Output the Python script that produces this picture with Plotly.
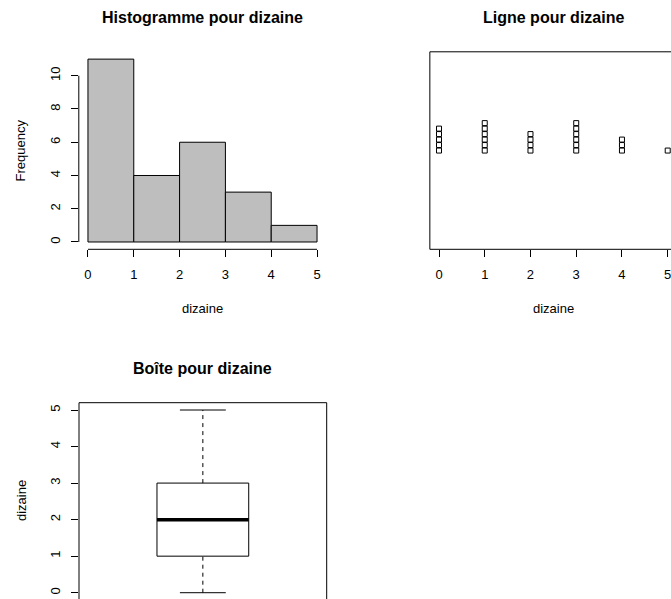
import numpy as np
import pandas as pd
import plotly.graph_objects as go

# ---- data ----
values = [0, 1, 2, 3, 4, 5]
value_counts = [5, 6, 4, 6, 3, 1]
breaks = [0, 1, 2, 3, 4, 5]
hist_ticks_x = [0, 1, 2, 3, 4, 5]
hist_ticks_y = [0, 2, 4, 6, 8, 10]
strip_ticks_x = [0, 1, 2, 3, 4, 5]
box_ticks_y = [0, 1, 2, 3, 4, 5]

dizaine = np.repeat(values, value_counts)

W, H = 671, 599
def px_x(p):
    return p / W
def px_y(p):
    return 1 - p / H

FONT = "Liberation Sans, Arial, Helvetica, sans-serif"
TICK = 13

# histogram counts, R style (right-closed, include lowest)
cats = pd.cut(pd.Series(dizaine), bins=breaks, right=True, include_lowest=True)
counts = cats.value_counts(sort=False).sort_index().values
mids = [(a + b) / 2 for a, b in zip(breaks[:-1], breaks[1:])]

fig = go.Figure()

fig.add_trace(go.Bar(x=mids, y=counts, width=1, marker=dict(color="#BEBEBE", line=dict(color="black", width=1)),
                     xaxis="x", yaxis="y", hoverinfo="x+y"))

# strip chart, stacked
sx, sy = [], []
for v, c in zip(values, value_counts):
    for k in range(c):
        sx.append(v)
        sy.append(1 + k * 0.03)
fig.add_trace(go.Scatter(x=sx, y=sy, mode="markers", xaxis="x2", yaxis="y2", cliponaxis=False,
                         marker=dict(symbol="square-open", size=5, color="black", line=dict(width=1))))

# boxplot
q1, med, q3 = np.percentile(dizaine, [25, 50, 75])
lo, hi = dizaine.min(), dizaine.max()
blk = dict(color="black", width=1)
fig.add_trace(go.Scatter(x=[0.8, 1.2, 1.2, 0.8, 0.8], y=[q1, q1, q3, q3, q1], mode="lines", line=blk,
                         xaxis="x3", yaxis="y3"))
fig.add_trace(go.Scatter(x=[1, 1, None, 1, 1], y=[q3, hi, None, lo, q1], mode="lines",
                         line=dict(color="black", width=1, dash="4px,4px"), xaxis="x3", yaxis="y3"))
fig.add_trace(go.Scatter(x=[0.9, 1.1, None, 0.9, 1.1], y=[hi, hi, None, lo, lo], mode="lines", line=blk,
                         xaxis="x3", yaxis="y3"))
fig.add_trace(go.Scatter(x=[0.8, 1.2], y=[med, med], mode="lines", line=dict(color="black", width=3.5),
                         xaxis="x3", yaxis="y3"))

ax = dict(showgrid=False, zeroline=False, showline=False, ticks="outside", ticklen=7, tickwidth=1,
          tickcolor="black", tickfont=dict(family=FONT, size=TICK, color="black"), fixedrange=True,
          ticklabeloverflow="allow")

fig.update_layout(
    width=W, height=H, margin=dict(l=0, r=0, t=0, b=0), showlegend=False,
    paper_bgcolor="white", plot_bgcolor="white",
    font=dict(family=FONT, color="black"),
    xaxis=dict(ax, domain=[px_x(78.8), px_x(326.2)], range=[-0.2, 5.2], tickvals=hist_ticks_x,
               anchor="y", ticklabelstandoff=6),
    yaxis=dict(ax, domain=[px_y(249.3), px_y(51.8)], range=[-0.44, 11.44], tickvals=hist_ticks_y,
               anchor="x", tickangle=-90, ticklabelstandoff=6),
    xaxis2=dict(ax, domain=[px_x(429.85), 1.0], range=[-0.2, 5.072], tickvals=strip_ticks_x,
                anchor="y2", ticklabelstandoff=6),
    yaxis2=dict(ax, domain=[px_y(249.3), px_y(51.8)], range=[0.46, 1.54], showticklabels=False, ticks="",
                anchor="x2"),
    xaxis3=dict(ax, domain=[px_x(79), px_x(326.7)], range=[0.46, 1.54], showticklabels=False, ticks="",
                anchor="y3"),
    yaxis3=dict(ax, domain=[0, px_y(402.7)], range=[-0.172, 5.2], tickvals=box_ticks_y,
                anchor="x3", tickangle=-90, ticklabelstandoff=6),
)

line = dict(color="black", width=1)
shapes = [
    dict(type="line", xref="x", yref="y domain", x0=0, x1=5, y0=0, y1=0, line=line),
    dict(type="line", xref="x domain", yref="y", x0=0, x1=0, y0=0, y1=10, line=line),
    dict(type="line", xref="x2 domain", yref="y2 domain", x0=0, x1=1, y0=1, y1=1, line=line),
    dict(type="line", xref="x2 domain", yref="y2 domain", x0=0, x1=1, y0=0, y1=0, line=line),
    dict(type="line", xref="x2 domain", yref="y2 domain", x0=0, x1=0, y0=0, y1=1, line=line),
    dict(type="line", xref="x3 domain", yref="y3 domain", x0=0, x1=1, y0=1, y1=1, line=line),
    dict(type="line", xref="x3 domain", yref="y3 domain", x0=0, x1=0, y0=0, y1=1, line=line),
    dict(type="line", xref="x3 domain", yref="y3 domain", x0=1, x1=1, y0=0, y1=1, line=line),
]
fig.update_layout(shapes=shapes)

def ann(text, x, y, size, angle=0):
    return dict(text=text, x=px_x(x), y=px_y(y), xref="paper", yref="paper", showarrow=False,
                xanchor="center", yanchor="middle", textangle=angle,
                font=dict(family=FONT, size=size, color="black"))

fig.update_layout(annotations=[
    ann("<b>Histogramme pour dizaine</b>", 202.5, 17, 16),
    ann("<b>Ligne pour dizaine</b>", 553.2, 17, 16),
    ann("<b>Boîte pour dizaine</b>", 202.9, 368, 16),
    ann("dizaine", 202.5, 308, TICK),
    ann("dizaine", 553.2, 308, TICK),
    ann("Frequency", 20, 150.5, TICK, -90),
    ann("dizaine", 21, 501, TICK, -90),
])

fig.write_html("out.html", config={"displayModeBar": False, "staticPlot": True},
               post_script="document.body.style.margin='0';document.body.style.overflow='hidden';")
